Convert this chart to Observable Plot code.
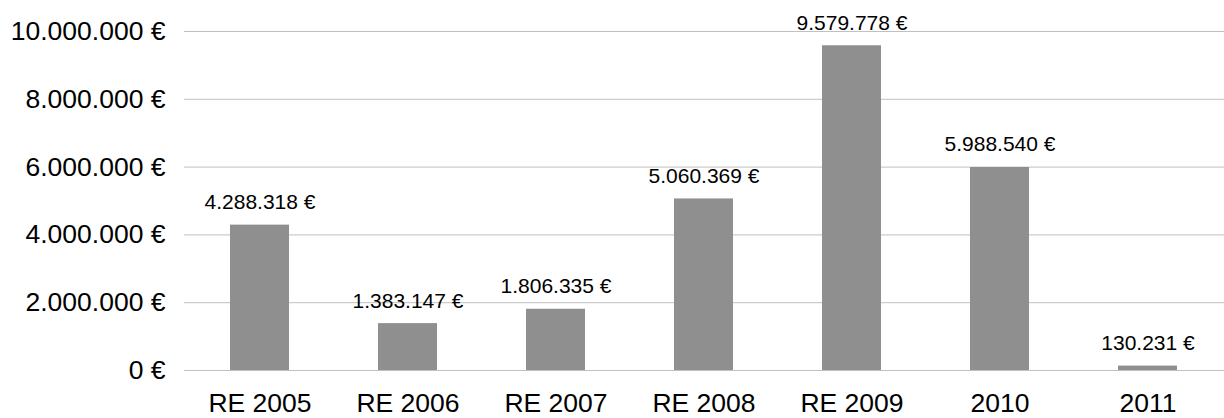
<!DOCTYPE html>
<html>
<head>
<meta charset="utf-8">
<script src="https://cdn.jsdelivr.net/npm/d3@7"></script>
<script src="https://cdn.jsdelivr.net/npm/@observablehq/plot@0.6"></script>
<style>
  html, body { margin: 0; padding: 0; background: #fff; }
  #chart { width: 1224px; height: 418px; }
</style>
</head>
<body>
<div id="chart"></div>
<script>
const categories = ["RE 2005", "RE 2006", "RE 2007", "RE 2008", "RE 2009", "2010", "2011"];
const values = [4288318, 1383147, 1806335, 5060369, 9579778, 5988540, 130231];
const yTicks = [0, 2000000, 4000000, 6000000, 8000000, 10000000];

const data = categories.map((c, i) => ({category: c, value: values[i]}));

const locale = d3.formatLocale({decimal: ",", thousands: ".", grouping: [3], currency: ["", " €"]});
const fmtNum = locale.format(",.0f");
const euro = v => fmtNum(v) + " €";

const font = "'Liberation Sans', Arial, Helvetica, sans-serif";

const chart = Plot.plot({
  width: 1224,
  height: 418,
  marginLeft: 184,
  marginRight: 0,
  marginTop: 31,
  marginBottom: 48,
  style: {fontFamily: font, fontSize: "26.5px", color: "#000", background: "#fff"},
  x: {domain: categories, paddingInner: 0.6, paddingOuter: 0.3, label: null},
  y: {domain: [0, 10000000], label: null},
  marks: [
    Plot.gridY(yTicks, {stroke: "#c0c0c0", strokeOpacity: 1, strokeWidth: 1}),
    Plot.barY(data, {x: "category", y: "value", fill: "#8f8f8f"}),
    Plot.text(data, {x: "category", y: "value", text: d => euro(d.value), dy: -16, lineAnchor: "bottom", fontSize: 21, fill: "#000"}),
    Plot.axisX({tickSize: 0, tickPadding: 23, label: null, fill: "#000"}),
    Plot.axisY(yTicks, {tickSize: 0, tickPadding: 19, tickFormat: euro, label: null, fill: "#000"})
  ]
});
document.getElementById("chart").appendChild(chart);
</script>
</body>
</html>
